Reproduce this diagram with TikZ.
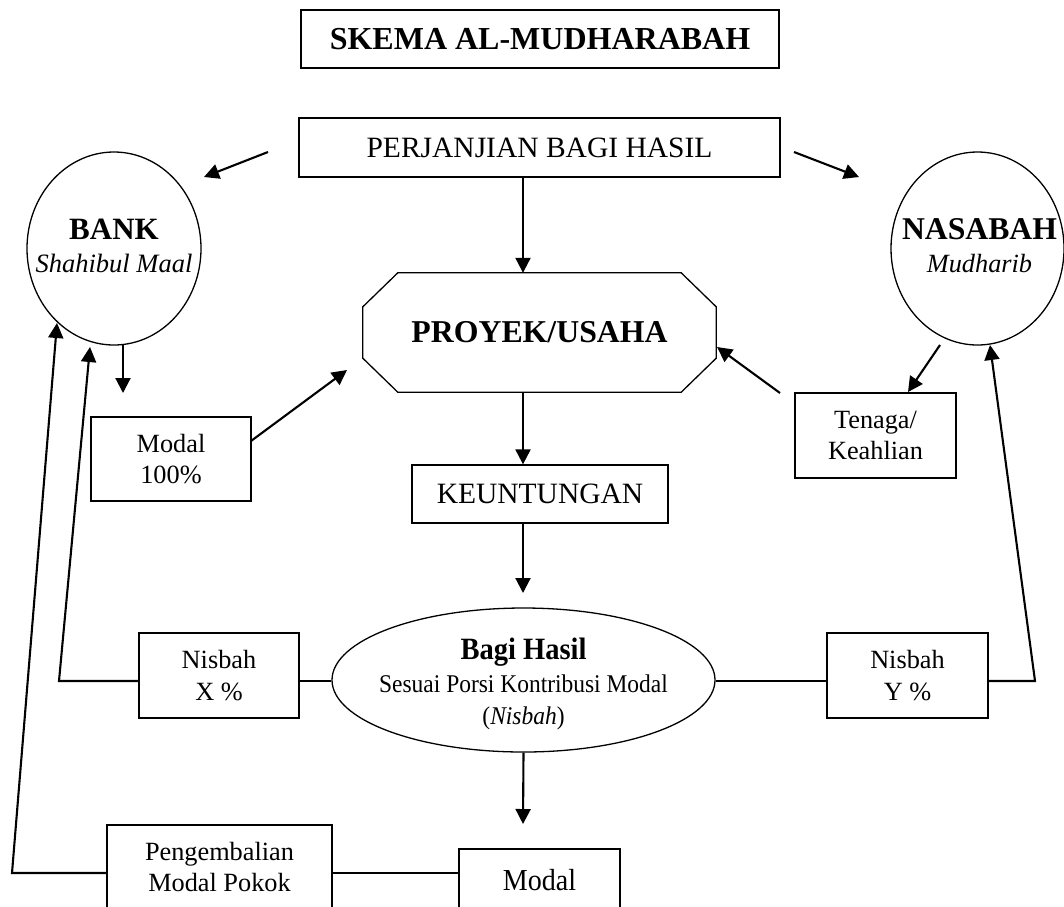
\documentclass[tikz,border=0pt]{standalone}
\usepackage{fontspec}
\setmainfont{Liberation Serif}
\newfontfamily\condfont[FakeStretch=0.92]{Liberation Serif}
\usetikzlibrary{arrows.meta,calc,shapes.geometric}
\newcommand\szreg{\fontsize{29.5}{33}\selectfont}
\newcommand\szsmall{\fontsize{26.3}{31.5}\selectfont}
\newcommand\szbig{\fontsize{31.8}{33}\selectfont}
\newcommand\sztitle{\fontsize{32}{34}\selectfont}
\begin{document}
\begin{tikzpicture}[x=1pt,y=-1pt,
  conn/.style={line width=2.1pt,-{Triangle[length=15pt,width=15pt]}},
  plainline/.style={line width=1.8pt},
  box/.style={draw,line width=1.3pt,rectangle,inner sep=0pt,align=center},
  oval/.style={draw,line width=1.3pt,ellipse,inner sep=0pt},
  txt/.style={inner sep=0pt,align=center},
  ]
\useasboundingbox (0,0) rectangle (1064,906);
\clip (0,0) rectangle (1064,906);

% title and agreement
\node[box,minimum width=478pt,minimum height=58pt,font=\sztitle] (title) at (540,39) {\bfseries SKEMA AL-MUDHARABAH};
\node[box,minimum width=481pt,minimum height=59pt,font=\szreg] (perj) at (539.5,147.5) {PERJANJIAN BAGI HASIL};

% parties
\node[oval,minimum width=174pt,minimum height=193pt] (bank) at (114,248.5) {};
\node[txt,font=\fontsize{26.5}{33}\selectfont] (bankt) at (114,246)
  {{\fontsize{31}{33}\selectfont\bfseries BANK}\\\itshape Shahibul Maal};
\node[oval,minimum width=173pt,minimum height=193pt] (nas) at (977.5,248.5) {};
\node[txt,font=\fontsize{26.3}{33}\selectfont] (nast) at (979.5,246)
  {{\fontsize{31.7}{33}\selectfont\bfseries NASABAH}\\\itshape Mudharib};

% project (octagon)
\node[inner sep=0pt,minimum width=353pt,minimum height=119pt,font=\szbig] (proj) at (539.5,332.5) {\bfseries PROYEK/USAHA};
\draw[line width=1.3pt] ($(proj.north west)+(35,0)$) -- ($(proj.north east)+(-35,0)$)
  -- ($(proj.north east)+(0,34)$) -- ($(proj.south east)+(0,-34)$)
  -- ($(proj.south east)+(-35,0)$) -- ($(proj.south west)+(35,0)$)
  -- ($(proj.south west)+(0,-34)$) -- ($(proj.north west)+(0,34)$) -- cycle;

% inputs
\node[box,minimum width=160pt,minimum height=84pt,font=\szsmall] (modal) at (171,459) {Modal\\100\%};
\node[box,minimum width=161pt,minimum height=85pt,font=\szsmall] (tenaga) at (875.5,435.5) {Tenaga/\\Keahlian};

% profit
\node[box,minimum width=256pt,minimum height=58pt,font=\szreg] (untung) at (540,494) {KEUNTUNGAN};

% profit sharing
\node[oval,minimum width=383pt,minimum height=144pt] (bagi) at (523.5,680) {};
\node[txt,font=\condfont\fontsize{25.5}{32.5}\selectfont] (bagit) at (523.5,684)
  {{\fontsize{31}{32.5}\selectfont\bfseries Bagi Hasil}\\Sesuai Porsi Kontribusi Modal\\(\textit{Nisbah})};
\node[box,minimum width=160pt,minimum height=85pt,font=\szsmall] (nx) at (219,675.5) {Nisbah\\X \%};
\node[box,minimum width=161pt,minimum height=85pt,font=\szsmall] (ny) at (907.5,675.5) {Nisbah\\Y \%};

% bottom
\node[box,minimum width=225pt,minimum height=84pt,font=\szsmall] (kembali) at (219.5,867) {Pengembalian\\Modal Pokok};
\node[box,minimum width=161pt,minimum height=62pt,font=\condfont\fontsize{30.5}{33}\selectfont] (modalb) at (539.5,880) {Modal};

% free arrow ends
\coordinate (pb1) at (268,152); \coordinate (pb2) at (204,177);
\coordinate (pn1) at (794,152); \coordinate (pn2) at (859,177);
\coordinate (bm1) at (123,345); \coordinate (bm2) at (123,393);
\coordinate (mp1) at (251,441); \coordinate (mp2) at (347,370);
\coordinate (nt1) at (940,345); \coordinate (nt2) at (908,392);
\coordinate (tp1) at (780,393); \coordinate (tp2) at (717,347);
\coordinate (kb2) at (523,593);
\coordinate (bmb2) at (523,824);
\coordinate (lx) at (59,681); \coordinate (bankin1) at (90,347);
\coordinate (rx) at (1035,681); \coordinate (nasin) at (990,345);
\coordinate (lk) at (12,873); \coordinate (bankin2) at (57,323);

% connectors
\draw[conn] (pb1) -- (pb2);
\draw[conn] (pn1) -- (pn2);
\draw[conn] (perj.south -| kb2) -- (proj.north -| kb2);
\draw[conn] (bm1) -- (bm2);
\draw[conn] (mp1) -- (mp2);
\draw[conn] (nt1) -- (nt2);
\draw[conn] (tp1) -- (tp2);
\draw[conn] (proj.south -| kb2) -- (untung.north -| kb2);
\draw[conn] (untung.south -| kb2) -- (kb2);
\draw[conn] (bagi.south) -- (bmb2);

\draw[conn] (nx.west |- lx) -- (lx) -- (bankin1);
\draw[plainline] (nx.east |- lx) -- (bagi.west |- lx);
\draw[plainline] (bagi.east |- rx) -- (ny.west |- rx);
\draw[conn] (ny.east |- rx) -- (rx) -- (nasin);
\draw[conn] (kembali.west |- lk) -- (lk) -- (bankin2);
\draw[plainline] (kembali.east |- lk) -- (modalb.west |- lk);
\end{tikzpicture}
\end{document}
